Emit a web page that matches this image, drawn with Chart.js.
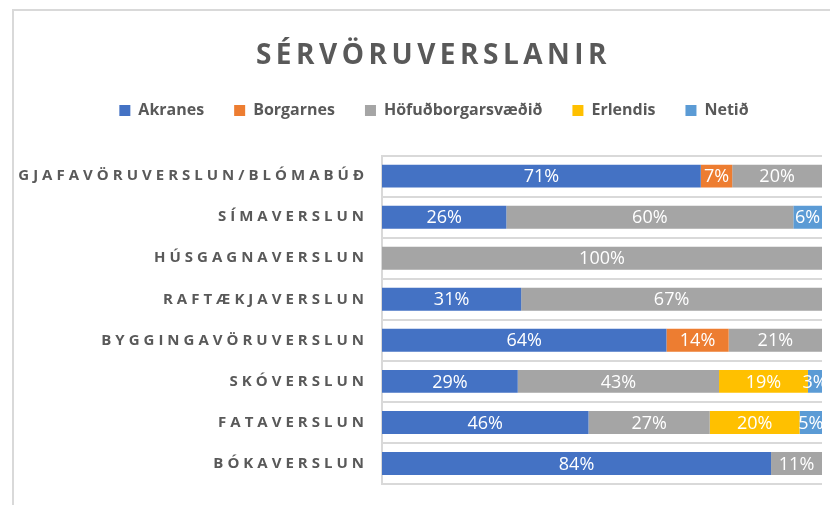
<!DOCTYPE html>
<html>
<head>
<meta charset="utf-8">
<script src="https://cdn.jsdelivr.net/npm/chart.js@4.4.1/dist/chart.umd.min.js"></script>
<style>
  html, body { margin: 0; padding: 0; background: #ffffff; }
  #wrap { position: relative; width: 830px; height: 505px; overflow: hidden; }
  #frame { position: absolute; left: 12px; top: 9px; width: 900px; height: 600px;
           border-left: 2px solid #d9d9d9; border-top: 2px solid #d9d9d9; }
  canvas { position: absolute; left: 0; top: 0; }
</style>
</head>
<body>
<div id="wrap">
  <div id="frame"></div>
  <canvas id="c" width="830" height="505"></canvas>
</div>
<script>
// ---- Data ----
const chartTitle = 'SÉRVÖRUVERSLANIR';
const categories = [
  'GJAFAVÖRUVERSLUN/BLÓMABÚÐ',
  'SÍMAVERSLUN',
  'HÚSGAGNAVERSLUN',
  'RAFTÆKJAVERSLUN',
  'BYGGINGAVÖRUVERSLUN',
  'SKÓVERSLUN',
  'FATAVERSLUN',
  'BÓKAVERSLUN'
];
const seriesNames = ['Akranes', 'Borgarnes', 'Höfuðborgarsvæðið', 'Erlendis', 'Netið'];
const akranes   = [71, 26, null, 31, 64, 29, 46, 84];
const borgarnes = [7, null, null, null, 14, null, null, null];
const hofudborg = [20, 60, 100, 67, 21, 43, 27, 11];
const erlendis  = [null, null, null, null, null, 19, 20, null];
const netid     = [null, 6, null, null, null, 3, 5, null];
const seriesColors = ['#4472C4', '#ED7D31', '#A5A5A5', '#FFC000', '#5B9BD5'];

// ---- 100% stacked: each bar's share of its row total ----
const allSeries = [akranes, borgarnes, hofudborg, erlendis, netid];
const rowTotals = categories.map((_, i) =>
  allSeries.reduce((s, arr) => s + (arr[i] || 0), 0));
const toShare = arr => arr.map((v, i) => (v == null ? null : v / rowTotals[i] * 100));

const TICK_SPACING = '4px';
const TITLE_SPACING = '4.5px';
const LEGEND_EXTRA = 27;
const TITLE_LEFT = 45;
const LEGEND_LEFT = 46;

class SpacedCategoryScale extends Chart.CategoryScale {
  drawLabels(chartArea) {
    const ctx = this.ctx;
    ctx.save();
    ctx.letterSpacing = TICK_SPACING;
    super.drawLabels(chartArea);
    ctx.restore();
  }
}
SpacedCategoryScale.id = 'spacedCategory';
SpacedCategoryScale.defaults = Chart.CategoryScale.defaults;
Chart.register(SpacedCategoryScale);

const layoutTweaks = {
  id: 'layoutTweaks',
  beforeLayout(chart) {
    const lg = chart.legend;
    if (lg && !lg._extra) {
      const origFit = lg.fit;
      lg.fit = function () {
        origFit.apply(this, arguments);
        this.height += LEGEND_EXTRA;
      };
      lg._extra = true;
    }
  },
  afterLayout(chart) {
    if (chart.titleBlock) chart.titleBlock.left = TITLE_LEFT;
    if (chart.legend) chart.legend.left = LEGEND_LEFT;
  },
  beforeDraw(chart) {
    const tb = chart.titleBlock;
    if (tb && !tb._spaced) {
      const orig = tb.draw;
      tb.draw = function () {
        const ctx = this.ctx;
        ctx.save();
        ctx.letterSpacing = TITLE_SPACING;
        orig.apply(this, arguments);
        ctx.restore();
      };
      tb._spaced = true;
    }
  }
};

const valueLabelsPlugin = {
  id: 'valueLabels',
  afterDatasetsDraw(chart) {
    const ctx = chart.ctx;
    ctx.save();
    ctx.font = '400 18px "Open Sans"';
    ctx.fillStyle = '#ffffff';
    ctx.textAlign = 'center';
    ctx.textBaseline = 'middle';
    chart.data.datasets.forEach((ds, di) => {
      const meta = chart.getDatasetMeta(di);
      meta.data.forEach((el, i) => {
        const raw = ds.rawValues[i];
        if (raw == null || raw === 0) return;
        ctx.fillText(raw + '%', (el.x + el.base) / 2, el.y + 1);
      });
    });
    ctx.restore();
  }
};

const datasets = allSeries.map((arr, k) => ({
  label: seriesNames[k],
  data: toShare(arr),
  rawValues: arr,
  backgroundColor: seriesColors[k],
  borderWidth: 0,
  categoryPercentage: 1.0,
  barPercentage: 0.56
}));

new Chart(document.getElementById('c'), {
  type: 'bar',
  data: { labels: categories, datasets },
  plugins: [layoutTweaks, valueLabelsPlugin],
  options: {
    indexAxis: 'y',
    responsive: false,
    animation: false,
    layout: { padding: { top: 0, left: 0, right: 8, bottom: 21 } },
    plugins: {
      title: {
        display: true,
        text: chartTitle,
        color: '#595959',
        font: { family: '"Open Sans"', size: 28, weight: 'bold' },
        padding: { top: 39, bottom: 0 }
      },
      legend: {
        display: true,
        position: 'top',
        labels: {
          color: '#595959',
          font: { family: '"Open Sans"', size: 16, weight: 'bold' },
          boxWidth: 11,
          boxHeight: 11,
          padding: 30
        }
      },
      tooltip: { enabled: false }
    },
    scales: {
      x: {
        stacked: true,
        display: false,
        min: 0,
        max: 100
      },
      y: {
        type: 'spacedCategory',
        stacked: true,
        offset: true,
        afterFit(scale) {
          scale.width = 382;
          scale.paddingTop = 0;
          scale.paddingBottom = 0;
        },
        grid: {
          offset: true,
          color: '#d9d9d9',
          lineWidth: 2,
          drawTicks: false
        },
        border: { display: true, color: '#d9d9d9', width: 2 },
        ticks: {
          color: '#595959',
          padding: 14,
          font: { family: '"Open Sans"', size: 15, weight: 'bold' }
        }
      }
    }
  }
});
</script>
</body>
</html>
